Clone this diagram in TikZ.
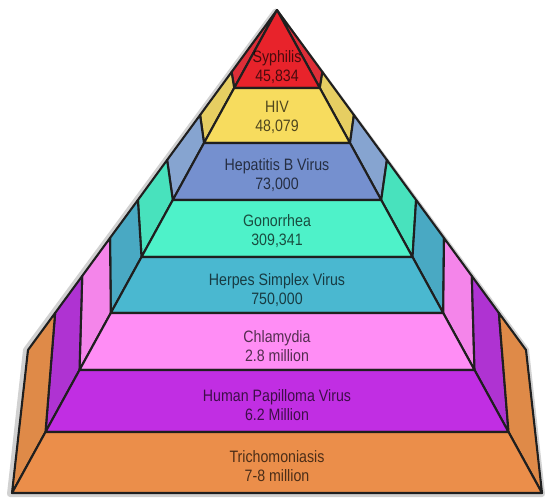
\documentclass[tikz,border=0pt]{standalone}
\usepackage{fontspec}
\setmainfont{Liberation Sans}[FakeStretch=0.86]
\definecolor{syphF}{HTML}{E8232B}\definecolor{syphS}{HTML}{DC2E38}
\definecolor{hivF}{HTML}{F7DC5E}\definecolor{hivS}{HTML}{E6CE62}
\definecolor{hepF}{HTML}{7590CF}\definecolor{hepS}{HTML}{86A4D0}
\definecolor{gonF}{HTML}{4EF2C9}\definecolor{gonS}{HTML}{48E2BD}
\definecolor{herF}{HTML}{4AB8D0}\definecolor{herS}{HTML}{49A9C3}
\definecolor{chlF}{HTML}{FF8DF5}\definecolor{chlS}{HTML}{F485EA}
\definecolor{hpvF}{HTML}{C12EE3}\definecolor{hpvS}{HTML}{AF33D2}
\definecolor{triF}{HTML}{EB8E4A}\definecolor{triS}{HTML}{DF8A48}

\begin{document}
\begin{tikzpicture}[x=1pt,y=-1pt,line join=round,
    tier/.style={draw=black!88,line width=2.1pt},
    label/.style={align=center,text=black,text opacity=.68,
      font=\fontsize{16.5}{19}\selectfont}]
      \useasboundingbox (0,0) rectangle (545,498);
      % inner edge of the front face
      \coordinate (top) at (277,10);
      \coordinate (inL1) at (234.2,88);  \coordinate (inR1) at (319.8,88);
      \coordinate (inL2) at (204.0,143); \coordinate (inR2) at (350.0,143);
      \coordinate (inL3) at (172.8,200); \coordinate (inR3) at (381.2,200);
      \coordinate (inL4) at (141.5,257); \coordinate (inR4) at (412.5,257);
      \coordinate (inL5) at (110.8,313); \coordinate (inR5) at (443.2,313);
      \coordinate (inL6) at (79.5,370);  \coordinate (inR6) at (474.5,370);
      \coordinate (inL7) at (45.5,432);  \coordinate (inR7) at (508.5,432);
      \coordinate (inL8) at (12,493);    \coordinate (inR8) at (542,493);
      % outer edge of the sides
      \coordinate (outL1) at (231.6,72);  \coordinate (outR1) at (322.4,72);
      \coordinate (outL2) at (200.1,115); \coordinate (outR2) at (353.9,115);
      \coordinate (outL3) at (167.1,160); \coordinate (outR3) at (386.9,160);
      \coordinate (outL4) at (137.9,200); \coordinate (outR4) at (416.1,200);
      \coordinate (outL5) at (110,238);   \coordinate (outR5) at (444,238);
      \coordinate (outL6) at (82.2,276);  \coordinate (outR6) at (471.8,276);
      \coordinate (outL7) at (55.1,313);  \coordinate (outR7) at (498.9,313);
      \coordinate (outL8) at (28,350);    \coordinate (outR8) at (526,350);
      \draw[black!18,line width=6pt] ([xshift=-1.5pt,yshift=-1.5pt]top) -- ([xshift=-2pt]outL8) -- ([xshift=-2pt,yshift=-1pt]inL8) -- ([yshift=-1pt]inR8) -- (outR8) -- cycle;
      % sides
      \draw[tier,fill=syphS] (inL1) -- (top) -- (outL1) -- cycle;
      \draw[tier,fill=syphS] (inR1) -- (top) -- (outR1) -- cycle;
      \draw[tier,fill=hivS] (inL2) -- (inL1) -- (outL1) -- (outL2) -- cycle;
      \draw[tier,fill=hivS] (inR2) -- (inR1) -- (outR1) -- (outR2) -- cycle;
      \draw[tier,fill=hepS] (inL3) -- (inL2) -- (outL2) -- (outL3) -- cycle;
      \draw[tier,fill=hepS] (inR3) -- (inR2) -- (outR2) -- (outR3) -- cycle;
      \draw[tier,fill=gonS] (inL4) -- (inL3) -- (outL3) -- (outL4) -- cycle;
      \draw[tier,fill=gonS] (inR4) -- (inR3) -- (outR3) -- (outR4) -- cycle;
      \draw[tier,fill=herS] (inL5) -- (inL4) -- (outL4) -- (outL5) -- cycle;
      \draw[tier,fill=herS] (inR5) -- (inR4) -- (outR4) -- (outR5) -- cycle;
      \draw[tier,fill=chlS] (inL6) -- (inL5) -- (outL5) -- (outL6) -- cycle;
      \draw[tier,fill=chlS] (inR6) -- (inR5) -- (outR5) -- (outR6) -- cycle;
      \draw[tier,fill=hpvS] (inL7) -- (inL6) -- (outL6) -- (outL7) -- cycle;
      \draw[tier,fill=hpvS] (inR7) -- (inR6) -- (outR6) -- (outR7) -- cycle;
      \draw[tier,fill=triS] (inL8) -- (inL7) -- (outL7) -- (outL8) -- cycle;
      \draw[tier,fill=triS] (inR8) -- (inR7) -- (outR7) -- (outR8) -- cycle;
      % front
      \draw[tier,fill=syphF] (top) -- (inR1) -- (inL1) -- cycle;
      \draw[tier,fill=hivF] (inL1) -- (inR1) -- (inR2) -- (inL2) -- cycle;
      \draw[tier,fill=hepF] (inL2) -- (inR2) -- (inR3) -- (inL3) -- cycle;
      \draw[tier,fill=gonF] (inL3) -- (inR3) -- (inR4) -- (inL4) -- cycle;
      \draw[tier,fill=herF] (inL4) -- (inR4) -- (inR5) -- (inL5) -- cycle;
      \draw[tier,fill=chlF] (inL5) -- (inR5) -- (inR6) -- (inL6) -- cycle;
      \draw[tier,fill=hpvF] (inL6) -- (inR6) -- (inR7) -- (inL7) -- cycle;
      \draw[tier,fill=triF] (inL7) -- (inR7) -- (inR8) -- (inL8) -- cycle;
      \node[label] (syph) at (277,67.5) {Syphilis\\45,834};
      \node[label] (hiv) at (277,117) {HIV\\48,079};
      \node[label] (hep) at (277,175) {Hepatitis B Virus\\73,000};
      \node[label] (gon) at (277,231) {Gonorrhea\\309,341};
      \node[label] (her) at (277,290.5) {Herpes Simplex Virus\\750,000};
      \node[label] (chl) at (277,346) {Chlamydia\\2.8 million};
      \node[label] (hpv) at (277,405) {Human Papilloma Virus\\6.2 Million};
      \node[label] (tri) at (277,466) {Trichomoniasis\\7-8 million};
    \end{tikzpicture}
\end{document}
